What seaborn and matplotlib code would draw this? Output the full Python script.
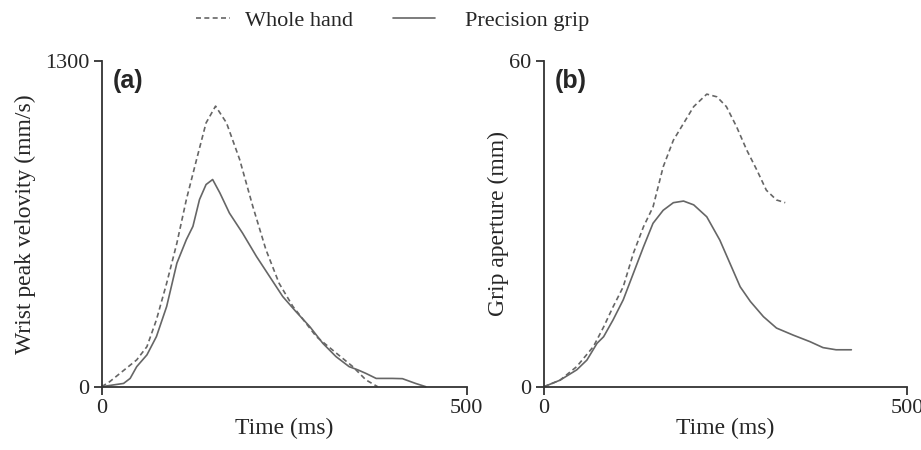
import matplotlib
matplotlib.use("Agg")
import matplotlib.pyplot as plt
from matplotlib.lines import Line2D
import seaborn as sns

# (a) wrist peak velocity
t_vel_whole = [0, 11, 48, 62, 75, 89, 103, 116, 130, 143, 156, 171, 189, 207, 225, 243,
               262, 271, 294, 316, 344, 362, 378]
vel_whole = [0, 20, 107, 160, 267, 413, 573, 747, 907, 1053, 1120, 1053, 907, 720, 547, 413,
             320, 287, 200, 147, 80, 27, 0]

t_vel_prec = [0, 16, 30, 39, 48, 62, 75, 89, 103, 116, 125, 134, 143, 152, 162, 175, 193,
              212, 230, 248, 266, 285, 303, 321, 339, 351, 362, 376, 398, 412, 430, 444]
vel_prec = [0, 7, 13, 33, 80, 127, 200, 320, 493, 587, 640, 747, 807, 827, 773, 693, 613,
            520, 440, 360, 300, 240, 173, 120, 80, 67, 53, 33, 33, 32, 13, 0]

# (b) grip aperture
t_grip_whole = [0, 22, 45, 68, 82, 95, 109, 123, 137, 150, 164, 178, 192, 206, 224, 238,
                251, 265, 279, 293, 306, 320, 332]
grip_whole = [0, 1.2, 3.7, 7.4, 11.0, 14.7, 18.4, 24.6, 29.5, 33.1, 40.5, 45.4, 48.5, 51.6,
              53.9, 53.4, 51.6, 47.9, 43.6, 39.9, 36.2, 34.4, 33.9]

t_grip_prec = [0, 22, 45, 59, 73, 82, 95, 109, 123, 137, 150, 164, 178, 192, 206, 224, 242,
               256, 270, 284, 302, 320, 343, 366, 384, 402, 423]
grip_prec = [0, 1.2, 3.1, 4.9, 8.0, 9.2, 12.3, 16.0, 20.9, 25.8, 30.1, 32.5, 33.9, 34.2, 33.5,
             31.3, 27.0, 22.7, 18.4, 15.7, 12.9, 10.8, 9.5, 8.3, 7.2, 6.8, 6.8]

labels = ["Whole hand", "Precision grip"]

sns.set_style("ticks")
plt.rcParams["font.family"] = ["Liberation Serif", "DejaVu Serif"]

line_col = "#666666"
spine_col = "#333333"
dash = (3, 2)

fig = plt.figure(figsize=(9.21, 4.5), dpi=100)
ax1 = fig.add_axes([0.1104, 0.1407, 0.3963, 0.7237])
ax2 = fig.add_axes([0.5907, 0.1407, 0.3944, 0.7237])

sns.lineplot(x=t_vel_whole, y=vel_whole, ax=ax1, color=line_col, lw=1.2)
ax1.lines[-1].set_dashes(dash)
sns.lineplot(x=t_vel_prec, y=vel_prec, ax=ax1, color=line_col, lw=1.2)

sns.lineplot(x=t_grip_whole, y=grip_whole, ax=ax2, color=line_col, lw=1.2)
ax2.lines[-1].set_dashes(dash)
sns.lineplot(x=t_grip_prec, y=grip_prec, ax=ax2, color=line_col, lw=1.2)

panels = [(ax1, 1300, "Wrist peak velovity (mm/s)", "(a)", 6),
          (ax2, 60, "Grip aperture (mm)", "(b)", 0)]
for ax, ymax, ylab, tag, lpad in panels:
    ax.set_xlim(0, 500)
    ax.set_ylim(0, ymax)
    ax.set_xticks([0, 500])
    ax.set_yticks([0, ymax])
    ax.set_xlabel("Time (ms)", fontsize=17, labelpad=0)
    ax.set_ylabel(ylab, fontsize=17, labelpad=lpad)
    ax.tick_params(labelsize=16, length=6, width=1.3, color=spine_col, pad=3)
    sns.despine(ax=ax)
    for s in ["left", "bottom"]:
        ax.spines[s].set_color(spine_col)
        ax.spines[s].set_linewidth(1.3)
    for ln in ax.lines:
        ln.set_clip_on(False)
    ax.text(0.03, 0.94, tag, transform=ax.transAxes, fontsize=18, fontweight="bold",
            family=["Liberation Sans", "DejaVu Sans"], va="center", ha="left")

# legend: two entries with different handle lengths, as in the original
leg_opts = [(Line2D([], [], color=line_col, lw=1.2, dashes=dash), labels[0], 196, 1.53, 0.68),
            (Line2D([], [], color=line_col, lw=1.2), labels[1], 393, 1.9, 1.35)]
for h, lab, x0, hl, tp in leg_opts:
    lg = fig.legend([h], [lab], loc="center left", bbox_to_anchor=(x0 / 921, 0.955),
                    frameon=False, fontsize=16, handlelength=hl, handletextpad=tp,
                    borderpad=0, borderaxespad=0)

fig.savefig("out.png", dpi=100)
